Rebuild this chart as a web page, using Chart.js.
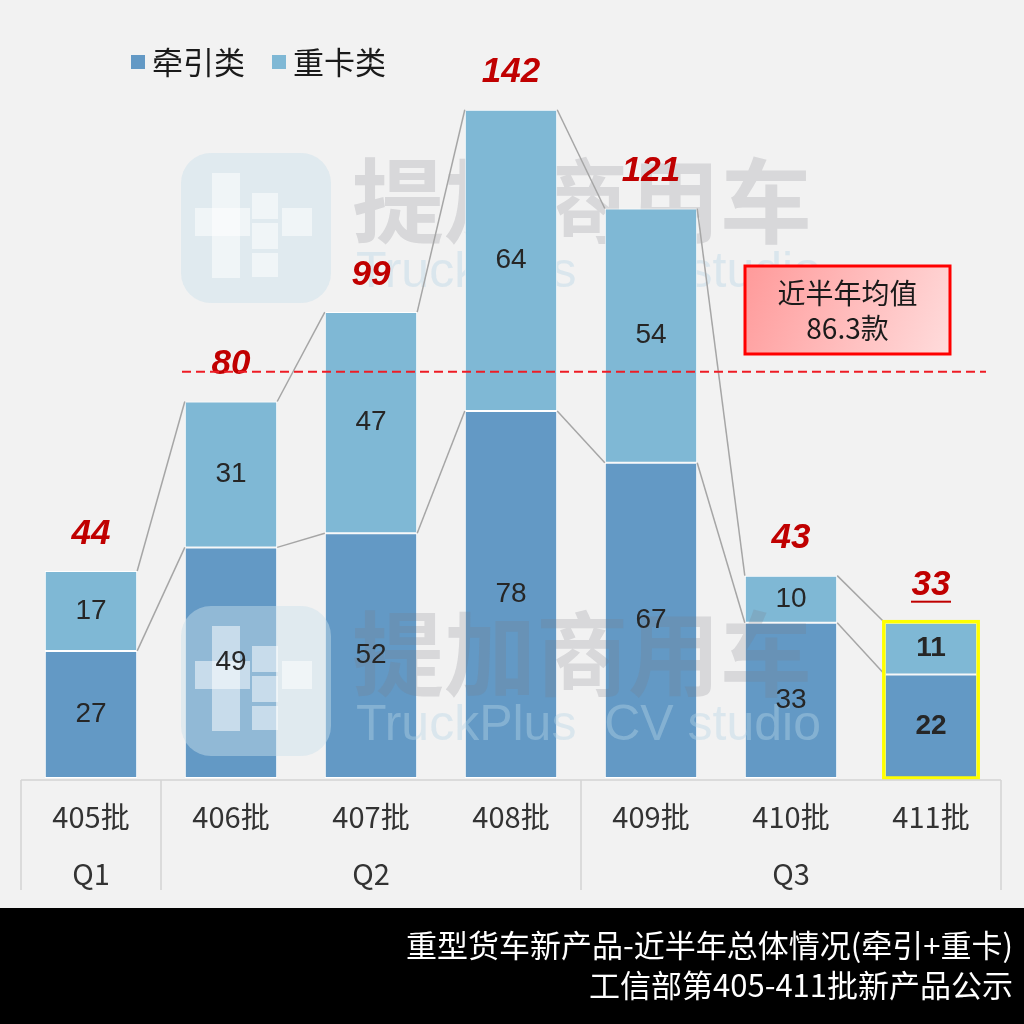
<!DOCTYPE html>
<html>
<head>
<meta charset="utf-8">
<script src="https://cdn.jsdelivr.net/npm/chart.js@4/dist/chart.umd.min.js"></script>
<style>
  body { margin: 0; background: #f2f2f2; }
  canvas { display: block; }
</style>
</head>
<body>
<canvas id="barChart" width="1024" height="1024"></canvas>
<script>
const categories = ['405批', '406批', '407批', '408批', '409批', '410批', '411批'];
const quarters = [['Q1', 0, 0], ['Q2', 1, 3], ['Q3', 4, 6]];
const tractor = [27, 49, 52, 78, 67, 33, 22];
const heavy = [17, 31, 47, 64, 54, 10, 11];
const avgValue = 86.3;
const avgText = ['近半年均值', '86.3款'];
const footerLines = ['重型货车新产品-近半年总体情况(牵引+重卡)', '工信部第405-411批新产品公示'];

const totals = tractor.map((v, i) => v + heavy[i]);
const CJK = '"Noto Sans CJK SC", "Noto Sans", sans-serif';
const NUM = '"Liberation Sans", Arial, sans-serif';

function watermark(c, top) {
    c.save();
    c.globalAlpha = 0.45;
    c.fillStyle = '#c9dfeb';
    c.beginPath();
    c.roundRect(181, top, 150, 150, 30);
    c.fill();
    c.fillStyle = '#ffffff';
    c.globalAlpha = 0.5;
    c.fillRect(212, top + 20, 28, 105);
    c.fillRect(195, top + 55, 55, 28);
    c.fillRect(252, top + 40, 26, 26);
    c.fillRect(252, top + 70, 26, 26);
    c.fillRect(282, top + 55, 30, 28);
    c.fillRect(252, top + 100, 26, 24);
    c.globalAlpha = 0.22;
    c.fillStyle = '#7a7a86';
    c.font = 'bold 92px ' + CJK;
    c.textBaseline = 'middle';
    c.textAlign = 'left';
    c.fillText('提加商用车', 352, top + 48);
    c.globalAlpha = 0.4;
    c.fillStyle = '#b7d4e6';
    c.font = '50px ' + NUM;
    c.fillText('TruckPlus  CV studio', 356, top + 120);
    c.restore();
}

// background, watermark, legend, axis, footer etc.
const decor = {
    id: 'decor',
    beforeDraw(chart) {
        const c = chart.ctx;
        c.save();
        c.fillStyle = '#f2f2f2';
        c.fillRect(0, 0, chart.width, chart.height);
        c.restore();
        watermark(c, 153);
    },
    afterDatasetsDraw(chart) {
        const c = chart.ctx;
        const area = chart.chartArea;
        const x = chart.scales.x;
        const y = chart.scales.y;
        const m0 = chart.getDatasetMeta(0).data;
        const m1 = chart.getDatasetMeta(1).data;
        watermark(c, 606);
        c.save();

        // connector lines between bar tops
        c.strokeStyle = '#a6a6a6';
        c.lineWidth = 1.5;
        [m0, m1].forEach(meta => {
            for (let i = 0; i < meta.length - 1; i++) {
                const a = meta[i], b = meta[i + 1];
                c.beginPath();
                c.moveTo(a.x + a.width / 2, a.y);
                c.lineTo(b.x - b.width / 2, b.y);
                c.stroke();
            }
        });

        // highlight last stack
        const last = categories.length - 1;
        const lb = m0[last], lt = m1[last];
        c.strokeStyle = '#ffff00';
        c.lineWidth = 3.5;
        c.strokeRect(lb.x - lb.width / 2 - 1, lt.y - 1, lb.width + 2, lb.base - lt.y + 1);

        // value labels inside the bars
        c.textAlign = 'center';
        c.textBaseline = 'middle';
        c.fillStyle = '#262626';
        [m0, m1].forEach(meta => {
            meta.forEach((el, i) => {
                const v = meta === m0 ? tractor[i] : heavy[i];
                c.font = (i === last ? 'bold ' : '') + '28px ' + NUM;
                c.fillText(String(v), el.x, (el.y + el.base) / 2);
            });
        });

        // totals
        c.fillStyle = '#c00000';
        c.font = 'italic bold 35px ' + NUM;
        m1.forEach((el, i) => {
            c.fillText(String(totals[i]), el.x, el.y - 37);
        });
        const ux = m1[last].x;
        c.fillRect(ux - 20, m1[last].y - 22, 40, 2);

        // average line
        const ay = y.getPixelForValue(avgValue);
        c.strokeStyle = '#ee1c25';
        c.lineWidth = 2;
        c.setLineDash([9, 5]);
        c.beginPath();
        c.moveTo(182, ay);
        c.lineTo(986, ay);
        c.stroke();
        c.setLineDash([]);

        // average annotation box
        const bx = 745, by = 266, bw = 205, bh = 88;
        const g = c.createLinearGradient(bx, by, bx + bw, by + bh);
        g.addColorStop(0, '#ff9a9a');
        g.addColorStop(1, '#ffdcdc');
        c.fillStyle = g;
        c.fillRect(bx, by, bw, bh);
        c.strokeStyle = '#ff0000';
        c.lineWidth = 3;
        c.strokeRect(bx, by, bw, bh);
        c.fillStyle = '#1a1a1a';
        c.font = '28px ' + CJK;
        c.fillText(avgText[0], bx + bw / 2, by + 27);
        c.fillText(avgText[1], bx + bw / 2, by + 62);

        // category axis
        const axisY = area.bottom + 2;
        c.strokeStyle = '#d4d4d4';
        c.lineWidth = 1.5;
        c.beginPath();
        c.moveTo(area.left, axisY);
        c.lineTo(area.right, axisY);
        const step = (area.right - area.left) / categories.length;
        const seps = [area.left, area.right];
        quarters.forEach(q => seps.push(area.left + q[1] * step));
        seps.forEach(sx => {
            c.moveTo(sx, axisY);
            c.lineTo(sx, 890);
        });
        c.stroke();

        c.fillStyle = '#333333';
        c.font = '29px ' + CJK;
        categories.forEach((lab, i) => {
            c.fillText(lab, x.getPixelForValue(i), 817);
        });
        quarters.forEach(q => {
            const cx = (x.getPixelForValue(q[1]) + x.getPixelForValue(q[2])) / 2;
            c.fillText(q[0], cx, 874);
        });

        // legend
        c.textAlign = 'left';
        c.font = '31px ' + CJK;
        let lx = 131;
        chart.data.datasets.forEach(ds => {
            c.fillStyle = ds.backgroundColor;
            c.fillRect(lx, 55, 14, 14);
            c.fillStyle = '#1a1a1a';
            c.fillText(ds.label, lx + 21, 62);
            lx += 141;
        });

        // footer band
        c.fillStyle = '#000000';
        c.fillRect(0, 908, chart.width, chart.height - 908);
        c.fillStyle = '#ffffff';
        c.textAlign = 'right';
        c.font = '31px ' + CJK;
        c.fillText(footerLines[0], 1013, 945);
        c.fillText(footerLines[1], 1013, 985);
        c.restore();
    }
};

const ctx = document.getElementById('barChart').getContext('2d');
let barChart = new Chart(ctx, {
    type: 'bar',
    data: {
        labels: categories,
        datasets: [{
            label: '牵引类',
            data: tractor,
            backgroundColor: '#6399c5',
            borderColor: '#ffffff',
            borderWidth: 1,
            borderSkipped: false
        }, {
            label: '重卡类',
            data: heavy,
            backgroundColor: '#7fb8d5',
            borderColor: '#ffffff',
            borderWidth: 1,
            borderSkipped: false
        }]
    },
    options: {
        responsive: false,
        animation: false,
        layout: { padding: { left: 21, right: 23, top: 25, bottom: 246 } },
        categoryPercentage: 1,
        barPercentage: 0.66,
        plugins: {
            legend: { display: false },
            tooltip: { enabled: false }
        },
        scales: {
            x: { stacked: true, display: false },
            y: { stacked: true, display: false, min: 0, max: 160 }
        }
    },
    plugins: [decor]
});
</script>
</body>
</html>
